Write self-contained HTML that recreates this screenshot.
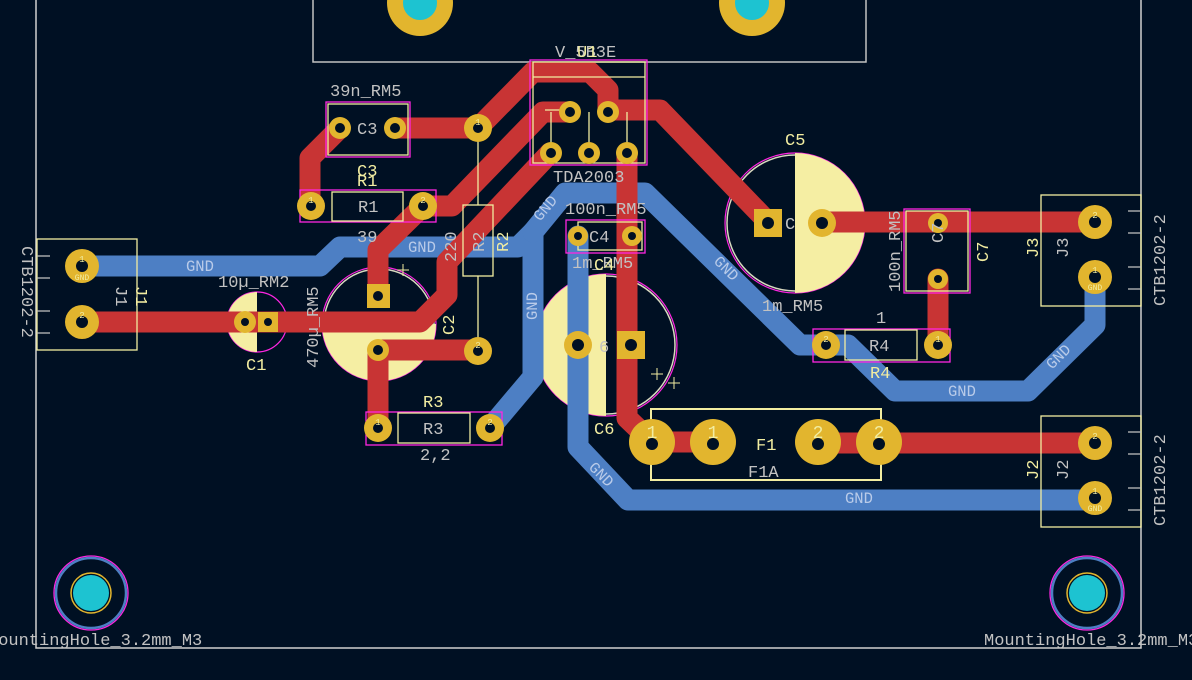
<!DOCTYPE html>
<html><head><meta charset="utf-8"><style>
html,body{margin:0;padding:0;background:#001023;}
svg{display:block;}
text{font-family:"Liberation Mono",monospace;}
.g{fill:#c2c2c2;font-size:17px;}
.y{fill:#f2eda1;font-size:17px;}
.t{fill:#b9cbe9;font-size:15.5px;}
.pn{fill:#f2eda1;font-size:9px;}
</style></head><body>
<svg width="1192" height="680" viewBox="0 0 1192 680" xmlns="http://www.w3.org/2000/svg">
<rect width="1192" height="680" fill="#001023"/>
<path d="M36 0 V648 H1141 V0" fill="none" stroke="#d0d0d0" stroke-width="1.5"/>
<rect x="313" y="-5" width="553" height="67" fill="none" stroke="#c2c2c2" stroke-width="1.5"/>
<circle cx="795" cy="223" r="70" fill="none" stroke="#ff26e2" stroke-width="1.2"/>
<circle cx="795" cy="223" r="68" fill="none" stroke="#d8d8c0" stroke-width="1.5"/>
<path d="M795 153 A70 70 0 0 1 795 293 Z" fill="#f5eea3"/>
<circle cx="606" cy="345" r="71" fill="none" stroke="#ff26e2" stroke-width="1.2"/>
<circle cx="606" cy="345" r="69" fill="none" stroke="#d8d8c0" stroke-width="1.5"/>
<path d="M606 274 A71 71 0 0 0 606 416 Z" fill="#f5eea3"/>
<circle cx="379" cy="324" r="57" fill="none" stroke="#ff26e2" stroke-width="1.2"/>
<circle cx="379" cy="324" r="55" fill="none" stroke="#d8d8c0" stroke-width="1.5"/>
<path d="M322 324 A57 57 0 0 0 436 324 Z" fill="#f5eea3"/>
<circle cx="257" cy="322" r="30" fill="none" stroke="#ff26e2" stroke-width="1.2"/>
<path d="M257 292 A30 30 0 0 0 257 352 Z" fill="#f5eea3"/>
<g fill="none" stroke="#4d7fc4" stroke-width="21" stroke-linejoin="round" stroke-linecap="round">
<path d="M82 266 H320 L340 247 H518 L533 232 V377 L490 428"/>
<path d="M533 232 L565 193 H645 L800 345 H848 L895 391 H1028 L1095 325 V277"/>
<path d="M578 236 V447 L628 500 H1095"/>
</g>
<g fill="none" stroke="#c83434" stroke-width="21" stroke-linejoin="round" stroke-linecap="round">
<path d="M82 322 H420 L447 295 V262 L550 153"/>
<path d="M395 128 H478 L533 72 H590 L608 90 V110 H660 L768 222"/>
<path d="M822 222 H1095"/>
<path d="M340 128 L310 158 V206"/>
<path d="M423 206 H452 L543 112 H570"/>
<path d="M423 206 L378 250 V296"/>
<path d="M378 350 H478"/>
<path d="M378 350 V428"/>
<path d="M627 153 V418 L652 442 H713"/>
<path d="M938 279 V345"/>
<path d="M818 443 H1095"/>
</g>
<g fill="none" stroke-width="1.3">
<rect x="326" y="102" width="84" height="55" stroke="#ff26e2"/>
<rect x="328" y="104" width="80" height="51" stroke="#f2eda1"/>
<rect x="300" y="190" width="136" height="32" stroke="#ff26e2"/>
<rect x="332" y="192" width="71" height="29" stroke="#f2eda1"/>
<rect x="463" y="205" width="30" height="71" stroke="#f2eda1"/>
<path d="M478 138 V205 M478 276 V338" stroke="#f2eda1"/>
<rect x="366" y="412" width="136" height="33" stroke="#ff26e2"/>
<rect x="398" y="413" width="72" height="30" stroke="#f2eda1"/>
<rect x="813" y="329" width="137" height="33" stroke="#ff26e2"/>
<rect x="845" y="330" width="72" height="30" stroke="#f2eda1"/>
<rect x="566" y="220" width="79" height="33" stroke="#ff26e2"/>
<rect x="578" y="222" width="64" height="28" stroke="#f2eda1"/>
<rect x="904" y="209" width="66" height="84" stroke="#ff26e2"/>
<rect x="906" y="211" width="62" height="80" stroke="#f2eda1"/>
<rect x="530" y="60" width="117" height="105" stroke="#ff26e2"/>
<rect x="533" y="62" width="112" height="101" stroke="#f2eda1"/>
<path d="M533 77 H645 M545 110 H575 M551 112 V153 M589 112 V153 M627 112 V153" stroke="#f2eda1"/>
<rect x="651" y="409" width="230" height="71" stroke="#f2eda1" stroke-width="2"/>
<rect x="37" y="239" width="100" height="111" stroke="#f2eda1"/>
<rect x="1041" y="195" width="100" height="111" stroke="#f2eda1"/>
<rect x="1041" y="416" width="100" height="111" stroke="#f2eda1"/>
<path d="M37 256 H50 M37 278 H50 M37 311 H50 M37 333 H50 M1128 211 H1141 M1128 233 H1141 M1128 267 H1141 M1128 289 H1141 M1128 432 H1141 M1128 454 H1141 M1128 488 H1141 M1128 510 H1141" stroke="#c2c2c2"/>
</g>
<g>
<circle cx="420" cy="3" r="33" fill="#e2b52e"/><circle cx="420" cy="3" r="17" fill="#1dc3d1"/>
<circle cx="752" cy="3" r="33" fill="#e2b52e"/><circle cx="752" cy="3" r="17" fill="#1dc3d1"/>
<circle cx="91" cy="593" r="37" fill="none" stroke="#ff26e2" stroke-width="1.3"/>
<circle cx="91" cy="593" r="35" fill="none" stroke="#4d7fc4" stroke-width="2.5"/>
<circle cx="91" cy="593" r="20" fill="none" stroke="#e2b52e" stroke-width="1.5"/>
<circle cx="91" cy="593" r="18" fill="#1dc3d1"/>
<circle cx="1087" cy="593" r="37" fill="none" stroke="#ff26e2" stroke-width="1.3"/>
<circle cx="1087" cy="593" r="35" fill="none" stroke="#4d7fc4" stroke-width="2.5"/>
<circle cx="1087" cy="593" r="20" fill="none" stroke="#e2b52e" stroke-width="1.5"/>
<circle cx="1087" cy="593" r="18" fill="#1dc3d1"/>
</g>
<g fill="#e2b52e">
<circle cx="340" cy="128" r="11"/><circle cx="395" cy="128" r="11"/>
<circle cx="478" cy="128" r="14"/><circle cx="478" cy="351" r="14"/>
<circle cx="311" cy="206" r="14"/><circle cx="423" cy="206" r="14"/>
<circle cx="378" cy="428" r="14"/><circle cx="490" cy="428" r="14"/>
<circle cx="826" cy="345" r="14"/><circle cx="938" cy="345" r="14"/>
<circle cx="570" cy="112" r="11"/><circle cx="608" cy="112" r="11"/>
<circle cx="551" cy="153" r="11"/><circle cx="589" cy="153" r="11"/><circle cx="627" cy="153" r="11"/>
<circle cx="578" cy="236" r="10"/><circle cx="632" cy="236" r="10"/>
<circle cx="938" cy="223" r="10"/><circle cx="938" cy="279" r="10"/>
<rect x="367" y="284" width="23" height="24"/><circle cx="378" cy="350" r="11"/>
<rect x="754" y="209" width="28" height="28"/><circle cx="822" cy="223" r="14"/>
<rect x="617" y="331" width="28" height="28"/><circle cx="578" cy="345" r="14"/>
<circle cx="245" cy="322" r="11"/><rect x="258" y="312" width="20" height="20"/>
<circle cx="82" cy="266" r="17"/><circle cx="82" cy="322" r="17"/>
<circle cx="1095" cy="222" r="17"/><circle cx="1095" cy="277" r="17"/>
<circle cx="1095" cy="443" r="17"/><circle cx="1095" cy="498" r="17"/>
<circle cx="652" cy="442" r="23"/><circle cx="713" cy="442" r="23"/>
<circle cx="818" cy="442" r="23"/><circle cx="879" cy="442" r="23"/>
</g>
<g fill="#001023">
<circle cx="340" cy="128" r="5"/><circle cx="395" cy="128" r="5"/><circle cx="478" cy="128" r="5"/><circle cx="478" cy="351" r="5"/>
<circle cx="311" cy="206" r="5"/><circle cx="423" cy="206" r="5"/><circle cx="378" cy="428" r="5"/><circle cx="490" cy="428" r="5"/>
<circle cx="826" cy="345" r="5"/><circle cx="938" cy="345" r="5"/><circle cx="570" cy="112" r="5"/><circle cx="608" cy="112" r="5"/>
<circle cx="551" cy="153" r="5"/><circle cx="589" cy="153" r="5"/><circle cx="627" cy="153" r="5"/>
<circle cx="578" cy="236" r="4"/><circle cx="632" cy="236" r="4"/><circle cx="938" cy="223" r="4"/><circle cx="938" cy="279" r="4"/>
<circle cx="378" cy="296" r="5"/><circle cx="378" cy="350" r="5"/><circle cx="768" cy="223" r="6"/><circle cx="822" cy="223" r="6"/>
<circle cx="631" cy="345" r="6"/><circle cx="578" cy="345" r="6"/><circle cx="245" cy="322" r="4"/><circle cx="268" cy="322" r="4"/>
<circle cx="82" cy="266" r="6"/><circle cx="82" cy="322" r="6"/><circle cx="1095" cy="222" r="6"/><circle cx="1095" cy="277" r="6"/>
<circle cx="1095" cy="443" r="6"/><circle cx="1095" cy="498" r="6"/>
<circle cx="652" cy="444" r="6"/><circle cx="713" cy="444" r="6"/><circle cx="818" cy="444" r="6"/><circle cx="879" cy="444" r="6"/>
</g>
<g class="pn" text-anchor="middle">
<text x="82" y="262">1</text><text x="82" y="280" font-size="8">GND</text><text x="82" y="318">2</text>
<text x="1095" y="218">2</text><text x="1095" y="273">1</text><text x="1095" y="290" font-size="8">GND</text>
<text x="1095" y="439">2</text><text x="1095" y="494">1</text><text x="1095" y="511" font-size="8">GND</text>
<text x="652" y="438" font-size="18">1</text><text x="713" y="438" font-size="18">1</text><text x="818" y="438" font-size="18">2</text><text x="879" y="438" font-size="18">2</text>
<text x="826" y="342">2</text><text x="938" y="342">1</text><text x="490" y="425">2</text><text x="378" y="425">1</text>
<text x="311" y="203">1</text><text x="423" y="203">2</text><text x="478" y="125">1</text><text x="478" y="348">2</text>
</g>
<path d="M403 264 v12 M397 270 h12 M657 368 v12 M651 374 h12 M674 377 v12 M668 383 h12" stroke="#f2eda1" stroke-width="1"/>
<g class="g">
<text x="555" y="57">V_5B3E</text>
<text x="330" y="96">39n_RM5</text>
<text x="357" y="134">C3</text>
<text x="358" y="212">R1</text>
<text x="357" y="242">39</text>
<text x="218" y="287">10µ_RM2</text>
<text x="420" y="460">2,2</text>
<text x="423" y="434">R3</text>
<text x="553" y="182">TDA2003</text>
<text x="565" y="214">100n_RM5</text>
<text x="589" y="242">C4</text>
<text x="572" y="268">1m_RM5</text>
<text x="599" y="352">6</text>
<text x="785" y="229">C</text>
<text x="762" y="311">1m_RM5</text>
<text x="876" y="323">1</text>
<text x="869" y="351">R4</text>
<text x="748" y="477">F1A</text>
<text x="984" y="645">MountingHole_3.2mm_M3</text>
<text x="-12" y="645">MountingHole_3.2mm_M3</text>
<text transform="translate(318,368) rotate(-90)">470µ_RM5</text>
<text transform="translate(484,252) rotate(-90)">R2</text>
<text transform="translate(456,262) rotate(-90)">220</text>
<text transform="translate(900,292) rotate(-90)">100n_RM5</text>
<text transform="translate(943,243) rotate(-90)">C7</text>
<text transform="translate(1068,258) rotate(-90)">J3</text>
<text transform="translate(1068,480) rotate(-90)">J2</text>
<text transform="translate(1165,306) rotate(-90)">CTB1202-2</text>
<text transform="translate(1165,526) rotate(-90)">CTB1202-2</text>
<text transform="translate(22,246) rotate(90)">CTB1202-2</text>
<text transform="translate(116,286) rotate(90)">J1</text>
</g>
<g class="y">
<text x="577" y="57">U1</text>
<text x="357" y="176">C3</text>
<text x="357" y="186">R1</text>
<text x="246" y="370">C1</text>
<text x="423" y="407">R3</text>
<text x="594" y="270">C4</text>
<text x="594" y="434">C6</text>
<text x="785" y="145">C5</text>
<text x="870" y="378">R4</text>
<text x="756" y="450">F1</text>
<text transform="translate(508,252) rotate(-90)">R2</text>
<text transform="translate(454,335) rotate(-90)">C2</text>
<text transform="translate(988,262) rotate(-90)">C7</text>
<text transform="translate(1038,258) rotate(-90)">J3</text>
<text transform="translate(1038,480) rotate(-90)">J2</text>
<text transform="translate(136,286) rotate(90)">J1</text>
</g>
<g class="t">
<text x="186" y="271">GND</text>
<text x="408" y="252">GND</text>
<text x="845" y="503">GND</text>
<text x="948" y="396">GND</text>
<text transform="translate(540,222) rotate(-50)">GND</text>
<text transform="translate(537,320) rotate(-90)">GND</text>
<text transform="translate(713,262) rotate(45)">GND</text>
<text transform="translate(588,468) rotate(45)">GND</text>
<text transform="translate(1052,370) rotate(-45)">GND</text>
</g>
</svg>
</body></html>
